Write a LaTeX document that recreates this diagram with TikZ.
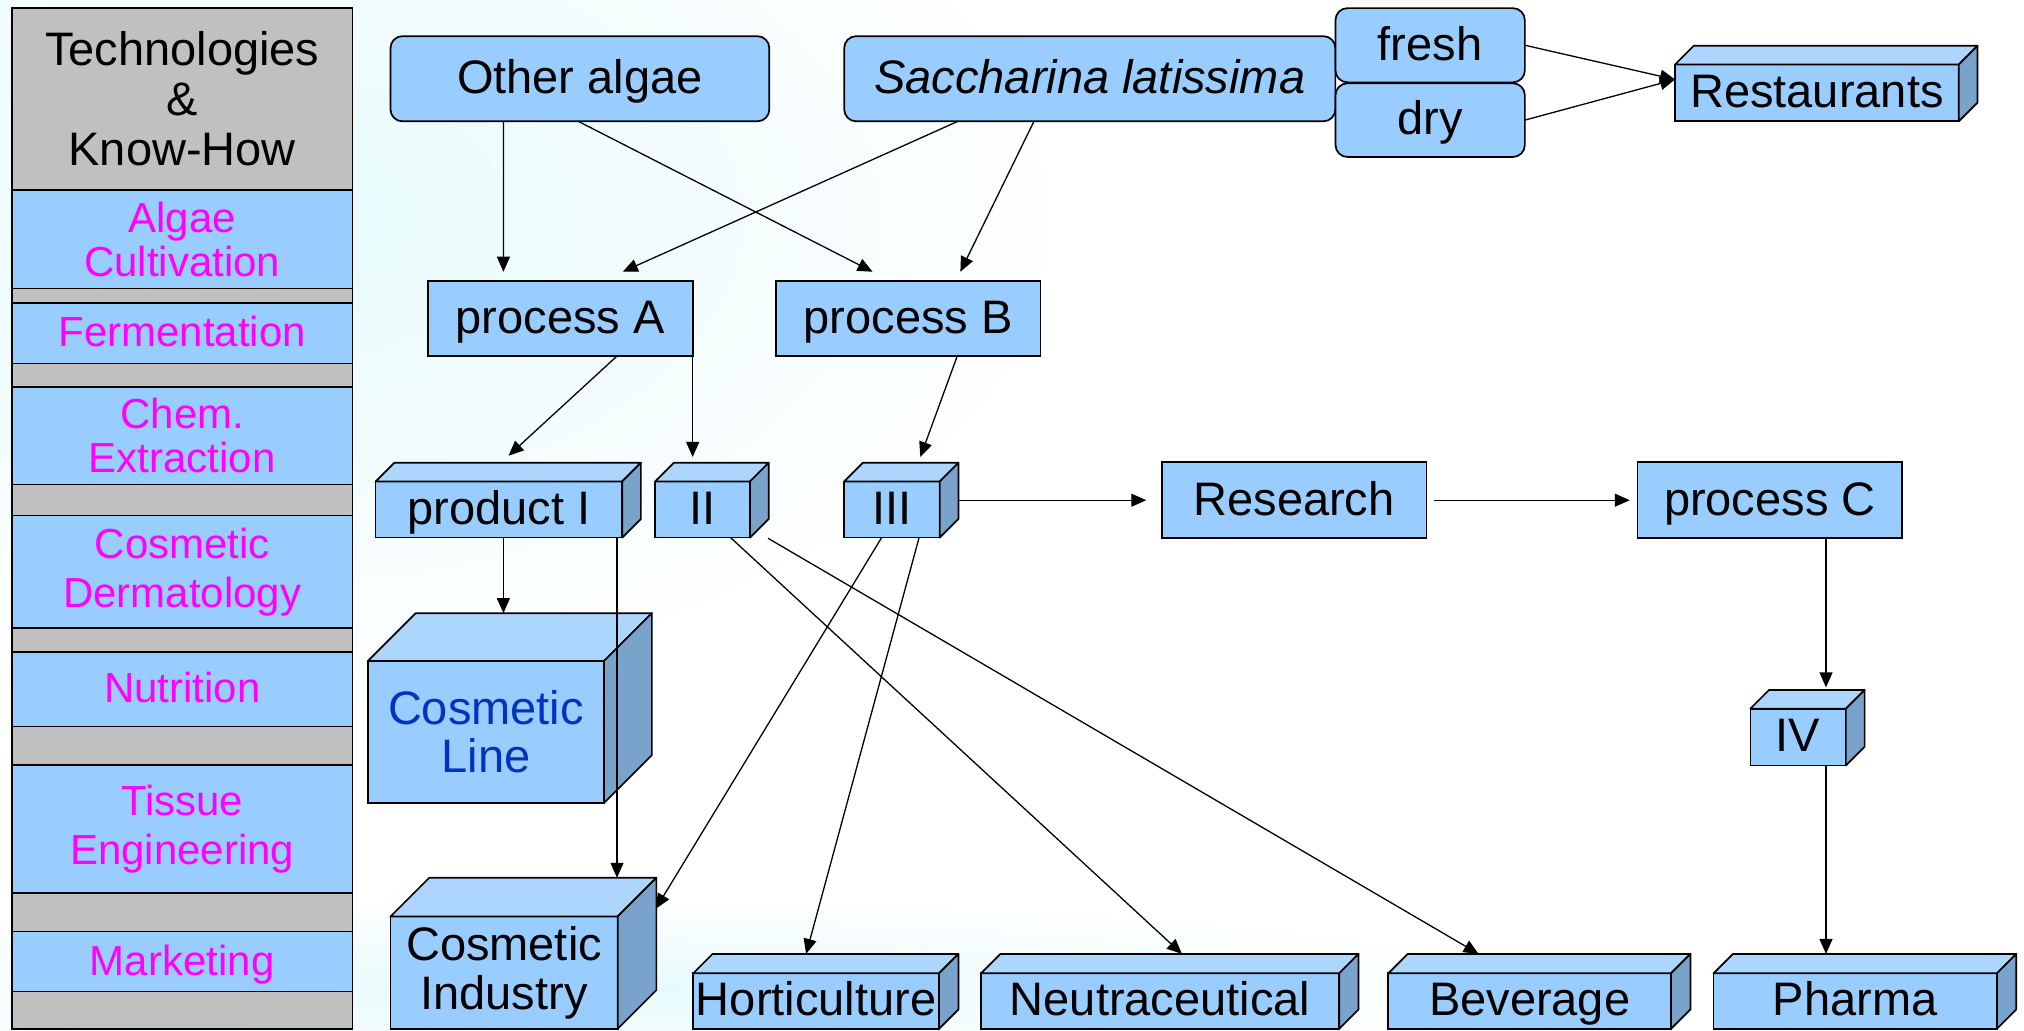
\documentclass[tikz,border=0pt]{standalone}
\usepackage{fontspec}
\setmainfont{Liberation Sans}
\usetikzlibrary{arrows.meta,calc}
\definecolor{boxblue}{RGB}{153,204,255}
\definecolor{topblue}{RGB}{173,214,255}
\definecolor{sideblue}{RGB}{122,163,204}
\definecolor{graybar}{RGB}{192,192,192}
\definecolor{magtext}{RGB}{255,0,255}
\definecolor{navytext}{RGB}{0,51,190}
\definecolor{bgcyan}{RGB}{230,250,251}
\newcommand{\pxu}{0.6454pt}
% box from corners: name, x1, y1, x2, y2, style, text
\newcommand{\cornerbox}[7]{%
  \node[#6,minimum width={(#4-#2)*\pxu},minimum height={(#5-#3)*\pxu}] (#1) at ({(#2+#4)/2},{(#3+#5)/2}) {#7};}
% 3D faces of a box node: name, depth
\newcommand{\cubefaces}[2]{%
  \filldraw[face,fill=topblue] (#1.north west) -- ($(#1.north west)+(#2,-#2)$) -- ($(#1.north east)+(#2,-#2)$) -- (#1.north east) -- cycle;
  \filldraw[face,fill=sideblue] (#1.north east) -- ($(#1.north east)+(#2,-#2)$) -- ($(#1.south east)+(#2,-#2)$) -- (#1.south east) -- cycle;}
\begin{document}
\begin{tikzpicture}[x=0.6454pt,y=-0.6454pt,
  bigfont/.style={font=\fontsize{23.5}{24.5}\selectfont},
  flat/.style={draw=black,line width=0.85pt,fill=boxblue,inner sep=0pt,outer sep=0pt,align=center,bigfont},
  one/.style={flat,text height=20.2pt,text depth=5.4pt},
  rflat/.style={one,rounded corners=6pt},
  band/.style={draw=black,line width=0.8pt,fill=boxblue,inner sep=0pt,outer sep=0pt,align=center,text=magtext,font=\fontsize{21}{22}\selectfont},
  bandone/.style={band,text height=18.3pt,text depth=4.7pt},
  bandwide/.style={band,font=\fontsize{21}{24.5}\selectfont},
  gapbar/.style={draw=black,line width=0.8pt,fill=graybar,inner sep=0pt,outer sep=0pt},
  face/.style={draw=black,line width=0.85pt,line join=round},
  arr/.style={-{Triangle[length=7.5pt,width=6.5pt]},line width=0.65pt,black},
]
% background
\fill[white] (0,0) rectangle (1568,798);
\useasboundingbox (0,0) rectangle (1568,798);
\shade[inner color=bgcyan,outer color=white] (200,170) ellipse [x radius=650,y radius=380];
\shade[inner color=bgcyan,outer color=white] (450,765) ellipse [x radius=760,y radius=70];

% left column
\cornerbox{head}{9.3}{6.2}{273}{147.2}{gapbar,align=center,font=\fontsize{23.5}{25}\selectfont}{Technologies\\\&\\Know-How}
\cornerbox{alg}{9.3}{147.2}{273}{223.4}{band}{Algae\\Cultivation}
\cornerbox{g1}{9.3}{223.4}{273}{234.7}{gapbar}{}
\cornerbox{ferm}{9.3}{234.7}{273}{281.5}{bandone}{Fermentation}
\cornerbox{g2}{9.3}{281.5}{273}{299.6}{gapbar}{}
\cornerbox{chem}{9.3}{299.6}{273}{375.3}{band}{Chem.\\Extraction}
\cornerbox{g3}{9.3}{375.3}{273}{399.2}{gapbar}{}
\cornerbox{derm}{9.3}{399.2}{273}{486.7}{bandwide}{Cosmetic\\Dermatology}
\cornerbox{g4}{9.3}{486.7}{273}{505}{gapbar}{}
\cornerbox{nutr}{9.3}{505}{273}{562.7}{bandone}{Nutrition}
\cornerbox{g5}{9.3}{562.7}{273}{592.5}{gapbar}{}
\cornerbox{tiss}{9.3}{592.5}{273}{691.8}{bandwide}{Tissue\\Engineering}
\cornerbox{g6}{9.3}{691.8}{273}{721.7}{gapbar}{}
\cornerbox{mark}{9.3}{721.7}{273}{768}{bandone}{Marketing}
\cornerbox{g7}{9.3}{768}{273}{797}{gapbar}{}

% sources
\cornerbox{otheralgae}{302.5}{28}{596}{94}{rflat}{Other algae}
\cornerbox{sacch}{654}{28}{1034.5}{94}{rflat}{\textit{Saccharina latissima}}
\cornerbox{fresh}{1034.6}{6.3}{1181.3}{63.8}{rflat}{fresh}
\cornerbox{dry}{1034.6}{64.5}{1181.3}{121.6}{rflat}{dry}
\cornerbox{restaurants}{1297.6}{50}{1517.5}{94}{one}{Restaurants}
\cubefaces{restaurants}{14.5}

% processes
\cornerbox{processA}{331.5}{217.5}{536.6}{276}{one}{process A}
\cornerbox{processB}{601}{217.5}{806}{276}{one}{process B}
\cornerbox{research}{900}{358}{1105}{417}{one}{Research}
\cornerbox{processC}{1268.6}{358}{1473.5}{417}{one}{process C}

% products
\cornerbox{productI}{291}{373}{482}{416.5}{one}{product I}
\cubefaces{productI}{14.5}
\cornerbox{II}{507.5}{373}{581}{416.5}{one}{II}
\cubefaces{II}{14.5}
\cornerbox{III}{654}{373}{728}{416.5}{one}{III}
\cubefaces{III}{14.5}
\cornerbox{IV}{1356}{549}{1430}{593}{one}{IV}
\cubefaces{IV}{14.5}
\cornerbox{cosline}{285}{512}{468}{622}{flat,text=navytext,font=\fontsize{23.5}{24}\selectfont}{Cosmetic\\Line}
\cubefaces{cosline}{37}
\cornerbox{cosind}{302.5}{710}{478.5}{797}{flat,font=\fontsize{23.5}{24.5}\selectfont}{Cosmetic\\Industry}
\cubefaces{cosind}{30}
\cornerbox{horti}{537}{754}{727.5}{797}{one}{Horticulture}
\cubefaces{horti}{15}
\cornerbox{neutra}{760}{754}{1037.5}{797}{one}{Neutraceutical}
\cubefaces{neutra}{15}
\cornerbox{bev}{1075.5}{754}{1294.6}{797}{one}{Beverage}
\cubefaces{bev}{15}
\cornerbox{pharma}{1327.5}{754}{1547}{797}{one}{Pharma}
\cubefaces{pharma}{15}

% connectors
\draw[arr] ($(otheralgae.south west)+(87.5,0)$) -- ($(processA.north west)+(58.5,-7)$);
\draw[arr] ($(otheralgae.south west)+(145.5,0)$) -- ($(processB.north west)+(75,-7)$);
\draw[arr] ($(sacch.south west)+(88,0)$) -- ($(processA.north west)+(151,-7)$);
\draw[arr] ($(sacch.south west)+(147,0)$) -- ($(processB.north west)+(143,-7)$);
\draw[arr] (fresh.east) -- ($(restaurants.north west)+(0,11.6)$);
\draw[arr] (dry.east) -- ($(restaurants.north west)+(0,11.6)$);
\draw[arr] ($(processA.south west)+(146.3,0)$) -- ($(productI.north west)+(103,-20)$);
\draw[arr] (processA.south east) -- ($(processA.south east |- II.north)+(0,-19)$);
\draw[arr] ($(processB.south west)+(140.5,0)$) -- ($(III.north west)+(59,-19)$);
\draw[arr] ($(productI.south west)+(99,0)$) -- ($(cosline.north west)+(105,-37)$);
\draw[arr] ($(productI.south west)+(187,0)$) -- ($(cosind.north east)+(-0.5,-30)$);
\draw[arr] ($(III.south west)+(29,0)$) -- ($(cosind.north east)+(29.5,-6)$);
\draw[arr] ($(III.south west)+(58,0)$) -- ($(horti.north west)+(87.5,-15)$);
\draw[arr] ($(II.south west)+(58.5,0)$) -- ($(neutra.north west)+(155.7,-15)$);
\draw[arr] ($(II.south east)+(14,0.5)$) -- ($(bev.north west)+(70,-15)$);
\draw[arr] ($(III.east)+(14,-7.25)$) -- ($(research.west)+(-12,0)$);
\draw[arr] ($(research.east)+(6,0)$) -- ($(processC.west)+(-6,0)$);
\draw[arr] ($(processC.south west)+(146,0)$) coordinate (pc) -- ($(pc |- IV.north)+(0,-16.5)$);
\draw[arr] (pc |- IV.south) -- ($(pc |- pharma.north)+(0,-15)$);
\end{tikzpicture}
\end{document}
